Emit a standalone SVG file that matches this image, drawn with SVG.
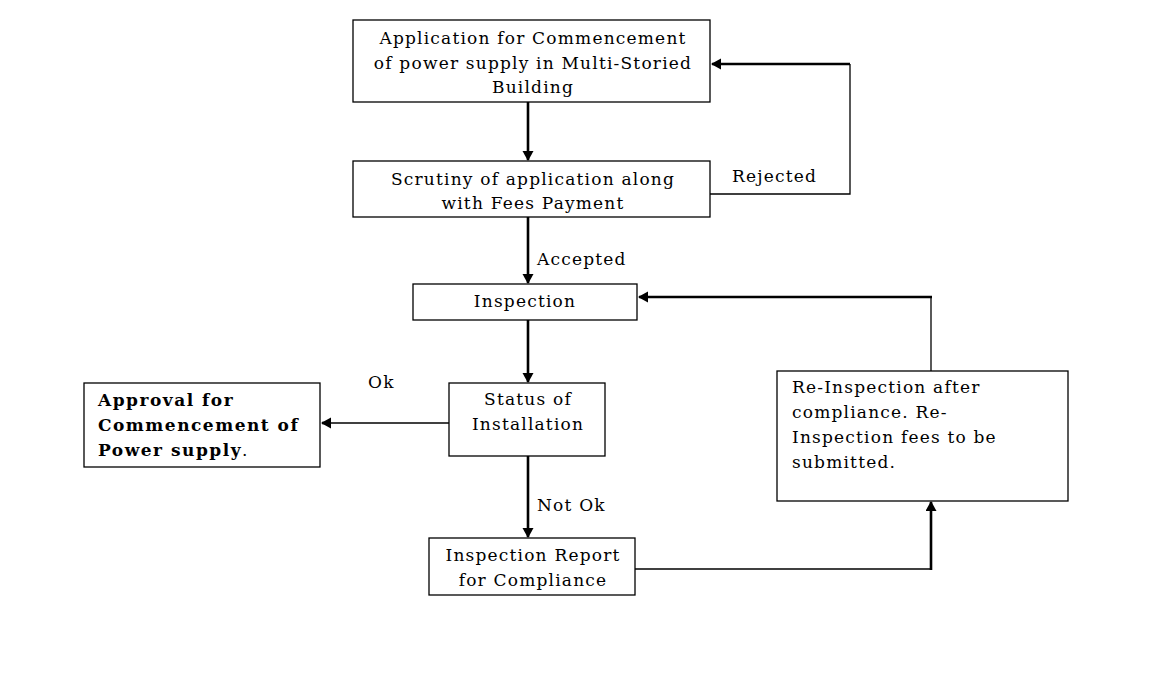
<svg xmlns="http://www.w3.org/2000/svg" width="1164" height="700" viewBox="0 0 1164 700">
<style>
.box{fill:#fff;stroke:#000;stroke-width:1.3}
.t{font-family:"DejaVu Serif","Liberation Serif",serif;font-size:17px;letter-spacing:1.2px;fill:#000}
.c{text-anchor:middle}
.b{font-weight:bold;letter-spacing:1.5px}
.thin{fill:none;stroke:#000;stroke-width:1.3}
.thick{fill:none;stroke:#000;stroke-width:2.6}
</style>
<defs>
<marker id="ah" markerWidth="12" markerHeight="12" refX="9" refY="5.5" orient="auto" markerUnits="userSpaceOnUse">
<path d="M0,0 L10,5.5 L0,11 z" fill="#000"/>
</marker>
</defs>
<rect width="1164" height="700" fill="#fff"/>
<g id="connectors">
<line class="thick" x1="528" y1="102" x2="528" y2="160" marker-end="url(#ah)"/>
<line class="thick" x1="528" y1="217" x2="528" y2="283" marker-end="url(#ah)"/>
<line class="thick" x1="528" y1="320" x2="528" y2="382" marker-end="url(#ah)"/>
<line class="thick" x1="528" y1="456" x2="528" y2="537" marker-end="url(#ah)"/>
<polyline class="thin" points="710,194 850,194 850,64"/>
<line class="thick" x1="850" y1="64" x2="712" y2="64" marker-end="url(#ah)"/>
<line class="thin" x1="449" y1="423" x2="330" y2="423"/>
<line class="thick" x1="330" y1="423" x2="322" y2="423" marker-end="url(#ah)"/>
<polyline class="thin" points="635,569 931,569"/>
<line class="thick" x1="931" y1="570" x2="931" y2="502" marker-end="url(#ah)"/>
<polyline class="thin" points="931,371 931,297"/>
<line class="thick" x1="932" y1="297" x2="639" y2="297" marker-end="url(#ah)"/>
<text class="t" x="732" y="182">Rejected</text>
<text class="t" x="537" y="265">Accepted</text>
<text class="t" x="368" y="388">Ok</text>
<text class="t" x="537" y="511">Not Ok</text>
</g>
<g id="application">
<rect class="box" x="353" y="20" width="357" height="82"/>
<text class="t c" x="533" y="44">Application for Commencement</text>
<text class="t c" x="533" y="69">of power supply in Multi-Storied</text>
<text class="t c" x="533" y="93">Building</text>
</g>
<g id="scrutiny">
<rect class="box" x="353" y="161" width="357" height="56"/>
<text class="t c" x="533" y="185">Scrutiny of application along</text>
<text class="t c" x="533" y="209">with Fees Payment</text>
</g>
<g id="inspection">
<rect class="box" x="413" y="284" width="224" height="36"/>
<text class="t c" x="525" y="307">Inspection</text>
</g>
<g id="status">
<rect class="box" x="449" y="383" width="156" height="73"/>
<text class="t c" x="528" y="405">Status of</text>
<text class="t c" x="528" y="430">Installation</text>
</g>
<g id="approval">
<rect class="box" x="84" y="383" width="236" height="84"/>
<text class="t b" x="98" y="406">Approval for</text>
<text class="t b" x="98" y="431">Commencement of</text>
<text class="t" x="98" y="456"><tspan class="b">Power supply</tspan>.</text>
</g>
<g id="report">
<rect class="box" x="429" y="538" width="206" height="57"/>
<text class="t c" x="533" y="561">Inspection Report</text>
<text class="t c" x="533" y="586">for Compliance</text>
</g>
<g id="reinspection">
<rect class="box" x="777" y="371" width="291" height="130"/>
<text class="t" x="792" y="393">Re-Inspection after</text>
<text class="t" x="792" y="418">compliance. Re-</text>
<text class="t" x="792" y="443">Inspection fees to be</text>
<text class="t" x="792" y="468">submitted.</text>
</g>
</svg>
